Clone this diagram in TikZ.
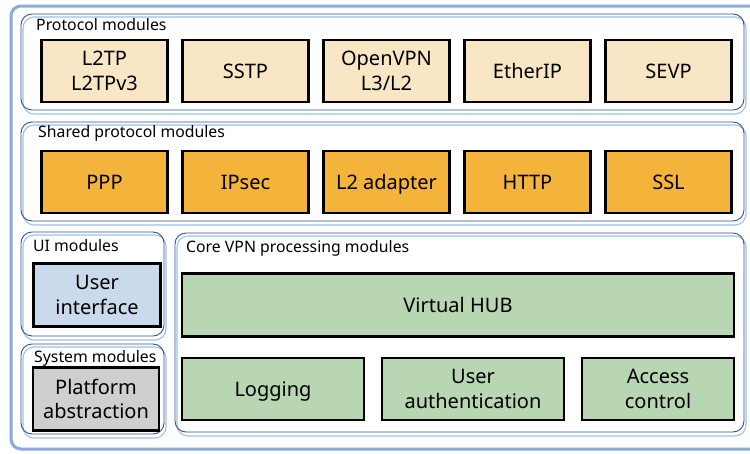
\documentclass[tikz,border=0pt]{standalone}
\usepackage{fontspec}
\setmainfont{Noto Sans}
\definecolor{frameblue}{HTML}{8EA9DB}
\definecolor{grpdark}{HTML}{2F5597}
\definecolor{grplight}{HTML}{9DC3E6}
\definecolor{protofill}{HTML}{F9E6C4}
\definecolor{sharedfill}{HTML}{F4B33A}
\definecolor{uifill}{HTML}{CBD9EC}
\definecolor{sysfill}{HTML}{D0CECE}
\definecolor{corefill}{HTML}{B7D6B1}
\tikzset{
  modbox/.style={draw=black, line width=2.4pt, minimum height=62pt, inner sep=2pt,
    align=center, font=\fontsize{20}{24.5}\selectfont, text=black},
  oneline/.style={text height=15pt, text depth=1pt},
  protobox/.style={modbox, fill=protofill, minimum width=126pt},
  sharedbox/.style={modbox, oneline, fill=sharedfill, minimum width=126pt},
  grplabel/.style={anchor=base west, inner sep=0pt, font=\fontsize{15.8}{18}\selectfont},
  grpdarkline/.style={draw=grpdark, line width=0.9pt, rounded corners=11pt},
  grplightline/.style={draw=grplight, line width=1.1pt, rounded corners=11pt},
}
% module group: a dark outline with a light echo shifted down and right
\newcommand{\modgroup}[4]{%
  \draw[grplightline] (#1+2,#2+3) rectangle (#3+2,#4+4);
  \draw[grpdarkline] (#1,#2) rectangle (#3,#4);
}
\begin{document}
\begin{tikzpicture}[x=1pt, y=-1pt]
\useasboundingbox (0,0) rectangle (750,453);
\clip (0,0) rectangle (750,453);
\fill[white] (0,0) rectangle (750,453);

% outer frame
\draw[frameblue, line width=3pt, rounded corners=10pt] (11,6) rectangle (770,449);

% groups
\modgroup{21}{14}{744}{110}
\modgroup{21}{122}{744}{221}
\modgroup{21}{232}{164}{336}
\modgroup{21}{344}{164}{434}
\modgroup{175}{233}{744}{432}

\node[grplabel] (lproto) at (36,30) {Protocol modules};
\node[grplabel] (lshared) at (38,137) {Shared protocol modules};
\node[grplabel] (lui) at (33,251) {UI modules};
\node[grplabel] (lsys) at (34,362) {System modules};
\node[grplabel] (lcore) at (186,252) {Core VPN processing modules};

% protocol modules
\node[protobox] (l2tp) at (104.5,71) {L2TP\\L2TPv3};
\node[protobox, oneline] (sstp) at (245.5,71) {SSTP};
\node[protobox] (openvpn) at (386.5,71) {OpenVPN\\L3/L2};
\node[protobox, oneline] (etherip) at (527.5,71) {EtherIP};
\node[protobox, oneline] (sevp) at (668.5,71) {SEVP};

% shared protocol modules
\node[sharedbox] (ppp) at (104.5,182) {PPP};
\node[sharedbox] (ipsec) at (245.5,182) {IPsec};
\node[sharedbox] (l2a) at (386.5,182) {L2 adapter};
\node[sharedbox] (http) at (527.5,182) {HTTP};
\node[sharedbox] (ssl) at (668.5,182) {SSL};

% UI and system modules
\node[modbox, fill=uifill, minimum width=127pt, minimum height=63pt] (ui) at (97,295) {User\\interface};
\node[modbox, fill=sysfill, minimum width=126pt, minimum height=63pt] (plat) at (96,399) {Platform\\abstraction};

% core VPN processing modules
\node[modbox, oneline, fill=corefill, minimum width=552pt, minimum height=63pt] (hub) at (458,305) {Virtual HUB};
\node[modbox, oneline, fill=corefill, minimum width=182pt] (log) at (273,389) {Logging};
\node[modbox, fill=corefill, minimum width=182pt] (auth) at (473,389) {User\\authentication};
\node[modbox, fill=corefill, minimum width=152pt] (acl) at (658,389) {Access\\control};
\end{tikzpicture}
\end{document}
